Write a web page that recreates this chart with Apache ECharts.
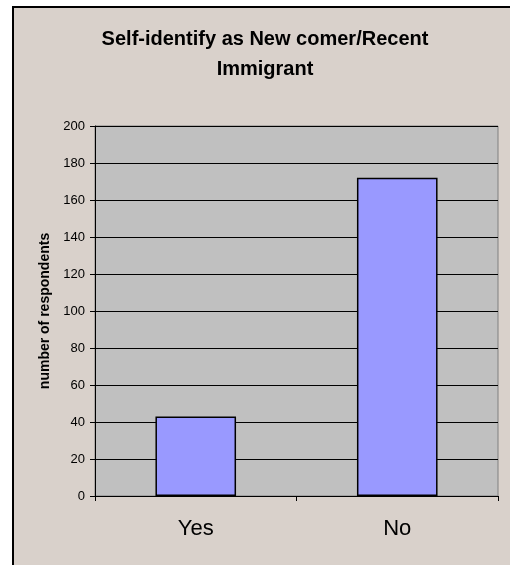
<!DOCTYPE html>
<html>
<head>
<meta charset="utf-8">
<script src="https://cdn.jsdelivr.net/npm/echarts@6/dist/echarts.min.js"></script>
<style>
html,body{margin:0;padding:0;background:#fff;overflow:hidden;}
#chart{width:510px;height:565px;}
</style>
</head>
<body>
<div id="chart"></div>
<script>
const categories = ['Yes', 'No'];
const respondents = [43, 172];
const yTicks = [0, 20, 40, 60, 80, 100, 120, 140, 160, 180, 200];

const chart = echarts.init(document.getElementById('chart'), null, {renderer: 'canvas'});
chart.setOption({
  backgroundColor: '#ffffff',
  animation: false,
  graphic: [{
    type: 'rect',
    z: -10,
    silent: true,
    shape: {x: 13, y: 7, width: 497, height: 558},
    style: {fill: '#D9D1CB'}
  }, {
    type: 'polyline',
    z: -9,
    silent: true,
    shape: {points: [[13, 565], [13, 7], [510, 7]]},
    style: {stroke: '#000', lineWidth: 2, fill: null}
  }],
  title: {
    text: 'Self-identify as New comer/Recent\nImmigrant',
    left: 260,
    top: 19,
    textAlign: 'center',
    textStyle: {fontFamily: 'Liberation Sans, Arial', fontSize: 20, fontWeight: 'bold', color: '#000', lineHeight: 30}
  },
  grid: {
    left: 95, right: 12, top: 126, bottom: 69,
    show: true, backgroundColor: '#C0C0C0', borderColor: '#808080', borderWidth: 1
  },
  xAxis: {
    type: 'category',
    data: categories,
    axisLine: {lineStyle: {color: '#000', width: 1}},
    axisTick: {show: true, length: 5, lineStyle: {color: '#000'}},
    axisLabel: {fontFamily: 'Liberation Sans, Arial', fontSize: 22, color: '#000', margin: 22}
  },
  yAxis: {
    type: 'value',
    min: yTicks[0],
    max: yTicks[yTicks.length - 1],
    interval: yTicks[1] - yTicks[0],
    name: 'number of respondents',
    nameLocation: 'middle',
    nameRotate: 90,
    nameGap: 38,
    nameTextStyle: {fontFamily: 'Liberation Sans, Arial', fontSize: 14, fontWeight: 'bold', color: '#000'},
    axisLine: {show: true, lineStyle: {color: '#000', width: 1}},
    axisTick: {show: true, length: 5, lineStyle: {color: '#000'}},
    axisLabel: {fontFamily: 'Liberation Sans, Arial', fontSize: 13, color: '#000', margin: 10},
    splitLine: {show: true, lineStyle: {color: '#000', width: 1}}
  },
  series: [{
    type: 'bar',
    data: respondents,
    barWidth: '40%',
    itemStyle: {color: '#9999FF', borderColor: '#000', borderWidth: 1.5}
  }]
});
</script>
</body>
</html>
